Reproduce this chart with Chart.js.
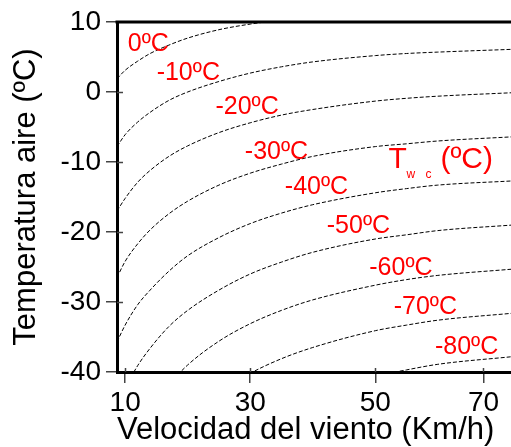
<!DOCTYPE html>
<html>
<head>
<meta charset="utf-8">
<title>Temperatura de sensación por viento</title>
<script src="https://cdn.jsdelivr.net/npm/chart.js@4.4.1/dist/chart.umd.min.js"></script>
<style>
  html, body { margin: 0; padding: 0; background: #fff; }
  #wrap { width: 511px; height: 447px; }
</style>
</head>
<body>
<div id="wrap"><canvas id="chart" width="511" height="447"></canvas></div>
<script>
// wind speed (km/h) at which each line was read
const windSpeeds = [8.7, 10, 12, 14, 17, 20, 25, 30, 35, 40, 50, 55, 60, 72];

// air temperature (ºC) along each wind chill line, null = outside the frame
const twc0   = [1.9, 3.1, 4.4, 5.5, 6.7, 7.7, 8.9, 9.7, 10.3, null, null, null, null, null];
const twc10  = [-7.8, -6.1, -4.3, -2.9, -1.2, 0.0, 1.5, 2.7, 3.6, 4.3, 5.2, 5.5, 5.7, 6.1];
const twc20  = [-17.0, -15.2, -12.9, -11.2, -9.2, -7.7, -5.8, -4.4, -3.3, -2.5, -1.3, -0.9, -0.6, -0.1];
const twc30  = [-26.5, -24.2, -21.7, -19.7, -17.4, -15.6, -13.3, -11.6, -10.3, -9.2, -7.8, -7.4, -7.0, -6.4];
const twc40  = [-35.7, -33.3, -30.4, -28.3, -25.6, -23.4, -20.8, -18.8, -17.3, -16.1, -14.4, -13.8, -13.3, -12.7];
const twc50  = [null, -42.3, -39.1, -36.6, -33.5, -31.2, -28.3, -26.0, -24.3, -22.9, -21.0, -20.4, -19.8, -19.0];
const twc60  = [null, null, null, -45.0, -41.8, -39.0, -35.6, -33.1, -31.2, -29.7, -27.6, -26.8, -26.2, -25.3];
const twc70  = [null, null, null, null, null, null, -43.0, -40.2, -38.1, -36.5, -34.1, -33.3, -32.6, -31.6];
const twc80  = [null, null, null, null, null, null, null, null, null, -43.2, -40.6, -39.7, -38.9, -37.8];

const twcLines  = [twc0, twc10, twc20, twc30, twc40, twc50, twc60, twc70, twc80];
const twcLabels = ['0ºC', '-10ºC', '-20ºC', '-30ºC', '-40ºC', '-50ºC', '-60ºC', '-70ºC', '-80ºC'];

// where each red label sits, in chart units (speed, temperature)
const labelSpeed = [13.7, 20.1, 29.5, 34.2, 40.6, 47.3, 54.1, 58.0, 64.6];
const labelTemp  = [6.8, 2.7, -2.2, -8.6, -13.6, -19.1, -25.1, -30.8, -36.5];

const xTickValues = [10, 30, 50, 67.3];
const xTickLabels = ['10', '30', '50', '70'];

const FONT = '"Liberation Sans", Arial, sans-serif';
const RED = '#ff0000';

const datasets = twcLines.map((temps, i) => ({
    label: twcLabels[i],
    data: windSpeeds.map((v, j) => ({ x: v, y: temps[j] })),
    showLine: true,
    borderColor: '#000',
    borderWidth: 1,
    borderDash: [4, 2],
    pointRadius: 0,
    cubicInterpolationMode: 'monotone',
    spanGaps: false
}));

// top frame, inner tick stubs and the red annotations
const extras = {
    id: 'extras',
    afterDraw(chart) {
        const { ctx, chartArea: a, scales: { x, y } } = chart;
        ctx.save();

        ctx.strokeStyle = '#000';
        ctx.lineWidth = 3;
        ctx.beginPath();
        ctx.moveTo(a.left - 1.5, a.top);
        ctx.lineTo(a.right, a.top);
        ctx.stroke();

        ctx.strokeStyle = '#444';
        ctx.lineWidth = 1.5;
        ctx.beginPath();
        y.ticks.forEach(t => {
            if (t.value > y.min && t.value < y.max) {
                const py = Math.round(y.getPixelForValue(t.value)) + 0.5;
                ctx.moveTo(a.left, py);
                ctx.lineTo(a.left + 6, py);
            }
        });
        x.ticks.forEach(t => {
            const px = Math.round(x.getPixelForValue(t.value)) + 0.5;
            ctx.moveTo(px, a.bottom);
            ctx.lineTo(px, a.bottom - 4);
        });
        ctx.stroke();

        ctx.fillStyle = RED;
        ctx.font = '25px ' + FONT;
        ctx.textAlign = 'center';
        ctx.textBaseline = 'middle';
        twcLabels.forEach((txt, i) => {
            ctx.fillText(txt, x.getPixelForValue(labelSpeed[i]), y.getPixelForValue(labelTemp[i]));
        });

        // T_wc (ºC)
        const tx = x.getPixelForValue(52.1);
        const ty = y.getPixelForValue(-10.9);
        ctx.textAlign = 'left';
        ctx.textBaseline = 'alphabetic';
        ctx.font = '30px ' + FONT;
        ctx.fillText('T', tx, ty);
        ctx.fillText('(ºC)', tx + 52, ty);
        ctx.font = '12px ' + FONT;
        ctx.fillText('w', tx + 18, ty + 10);
        ctx.fillText('c', tx + 37, ty + 10);

        ctx.restore();
    }
};

new Chart(document.getElementById('chart'), {
    type: 'scatter',
    data: { datasets },
    options: {
        responsive: false,
        animation: false,
        layout: { padding: { top: 22, right: 0, left: 0, bottom: 0 } },
        plugins: {
            legend: { display: false },
            tooltip: { enabled: false }
        },
        scales: {
            x: {
                type: 'linear',
                min: 8.7,
                max: 71.7,
                afterBuildTicks: scale => {
                    scale.ticks = xTickValues.map(v => ({ value: v }));
                },
                afterFit: scale => { scale.height = 75; },
                ticks: {
                    color: '#000',
                    font: { family: FONT, size: 28 },
                    padding: 3,
                    maxRotation: 0,
                    autoSkip: false,
                    callback: (v, i) => xTickLabels[i]
                },
                grid: { drawOnChartArea: false, drawTicks: true, tickLength: 11, color: '#444', lineWidth: 1.5 },
                border: { display: true, color: '#000', width: 3 },
                title: {
                    display: true,
                    align: 'start',
                    text: 'Velocidad del viento (Km/h)',
                    color: '#000',
                    font: { family: FONT, size: 31, lineHeight: 1 },
                    padding: { top: 0, bottom: 1 }
                }
            },
            y: {
                min: -40,
                max: 10,
                afterFit: scale => { scale.width = 117; },
                ticks: {
                    stepSize: 10,
                    color: '#000',
                    font: { family: FONT, size: 28 },
                    padding: 5
                },
                grid: { drawOnChartArea: false, drawTicks: true, tickLength: 11, color: '#444', lineWidth: 1.5 },
                border: { display: true, color: '#000', width: 3 },
                title: {
                    display: true,
                    text: 'Temperatura aire (ºC)',
                    color: '#000',
                    font: { family: FONT, size: 31 },
                    padding: { top: 8, bottom: 0 }
                }
            }
        }
    },
    plugins: [extras]
});
</script>
</body>
</html>
